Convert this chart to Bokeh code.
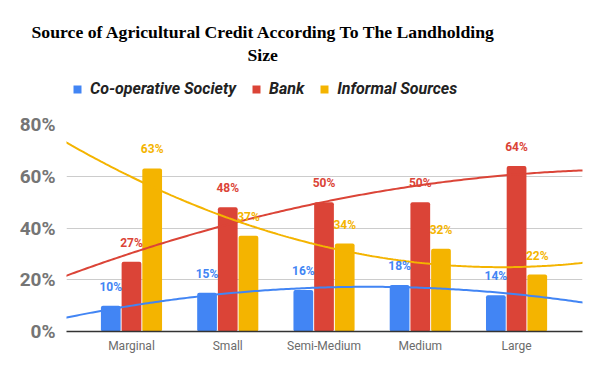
import numpy as np
from bokeh.plotting import figure
from bokeh.layouts import column
from bokeh.models import Range1d, FixedTicker, Legend, LegendItem, Title
from bokeh.embed import file_html
from bokeh.resources import INLINE
from bokeh.core.properties import value

# ---- data ----
categories = ["Marginal", "Small", "Semi-Medium", "Medium", "Large"]
series_names = ["Co-operative Society", "Bank", "Informal Sources"]
coop = [10, 15, 16, 18, 14]
bank = [27, 48, 50, 50, 64]
informal = [63, 37, 34, 32, 22]
y_ticks = [0, 20, 40, 60, 80]
y_tick_labels = ["0%", "20%", "40%", "60%", "80%"]
title_lines = ["Source of Agricultural Credit According To The Landholding", "Size"]

colors = ["#4285F4", "#DB4437", "#F4B400"]
series = [coop, bank, informal]
offsets = [-0.215, 0.0, 0.215]

W = 592
HEAD_H = 110

# ---- header (title + legend) ----
head = figure(width=W, height=HEAD_H, output_backend="svg", toolbar_location=None,
              min_border=0, x_axis_location=None, y_axis_location=None)
head.grid.visible = False
head.outline_line_color = None
tfont = dict(text_font="Liberation Serif", text_font_style="bold", text_font_size="17.7px",
             text_color="#000000", align="left")
head.add_layout(Title(text=title_lines[1], offset=181, standoff=0, **tfont), "above")
head.add_layout(Title(text=title_lines[0], offset=-35, standoff=1, **tfont), "above")
# blank spacer above the title
head.add_layout(Title(text=" ", standoff=0, text_font_size="16px"), "above")
dummy = [head.vbar(x=[0], top=[0], bottom=[0], width=0, fill_color=c, line_color=None) for c in colors]
legend = Legend(items=[LegendItem(label=n, renderers=[r]) for n, r in zip(series_names, dummy)],
                orientation="horizontal", location=(6, 12), padding=0, margin=0, spacing=15,
                glyph_width=10, glyph_height=10, label_standoff=8,
                label_text_font="Roboto", label_text_font_style="bold italic",
                label_text_font_size="16px", label_text_color="#222222",
                border_line_color=None, background_fill_alpha=0)
head.add_layout(legend, "center")

# ---- chart ----
p = figure(width=W, height=363 - HEAD_H, x_range=Range1d(-0.675, 4.685), y_range=Range1d(0, 80),
           output_backend="svg", toolbar_location=None,
           min_border_left=66, min_border_right=10, min_border_top=124 - HEAD_H, min_border_bottom=32)
p.outline_line_color = None

p.yaxis.ticker = FixedTicker(ticks=y_ticks)
p.yaxis.major_label_overrides = {t: l for t, l in zip(y_ticks, y_tick_labels)}
p.yaxis.axis_line_color = None
p.yaxis.major_tick_line_color = None
p.yaxis.major_tick_out = 0
p.yaxis.minor_tick_line_color = None
p.yaxis.major_label_text_font = "Roboto"
p.yaxis.major_label_text_font_style = "bold"
p.yaxis.major_label_text_font_size = "19px"
p.yaxis.major_label_text_color = "#757575"
p.yaxis.major_label_standoff = 11

idx = np.arange(len(categories))
p.xaxis.ticker = FixedTicker(ticks=list(idx))
p.xaxis.major_label_overrides = {int(i): c for i, c in zip(idx, categories)}
p.xaxis.axis_line_color = "#333333"
p.xaxis.axis_line_width = 1.5
p.xaxis.major_tick_line_color = None
p.xaxis.major_tick_out = 0
p.xaxis.minor_tick_line_color = None
p.xaxis.major_label_text_font = "Roboto"
p.xaxis.major_label_text_font_size = "12px"
p.xaxis.major_label_text_color = "#6b6b6b"
p.xaxis.major_label_standoff = 7

p.xgrid.grid_line_color = None
p.ygrid.grid_line_color = "#cccccc"

for vals, col, off in zip(series, colors, offsets):
    p.vbar(x=idx + off, top=vals, width=0.205, bottom=0, fill_color=col, line_color=None,
           border_radius=2)

# polynomial (order 2) trendlines
xs = np.linspace(-0.7, 4.7, 200)
for vals, col in zip(series, colors):
    coeffs = np.polyfit(idx, vals, 2)
    p.line(xs, np.polyval(coeffs, xs), line_color=col, line_width=2)

# data labels
for vals, col, off in zip(series, colors, offsets):
    p.text(x=idx + off, y=vals, text=[f"{v}%" for v in vals], text_color=col,
           text_font=value("Roboto"), text_font_style="bold", text_font_size="12px",
           text_align="center", text_baseline="middle", y_offset=-19)

layout = column(head, p, spacing=0)
open("out.html", "w").write(file_html(layout, INLINE))
